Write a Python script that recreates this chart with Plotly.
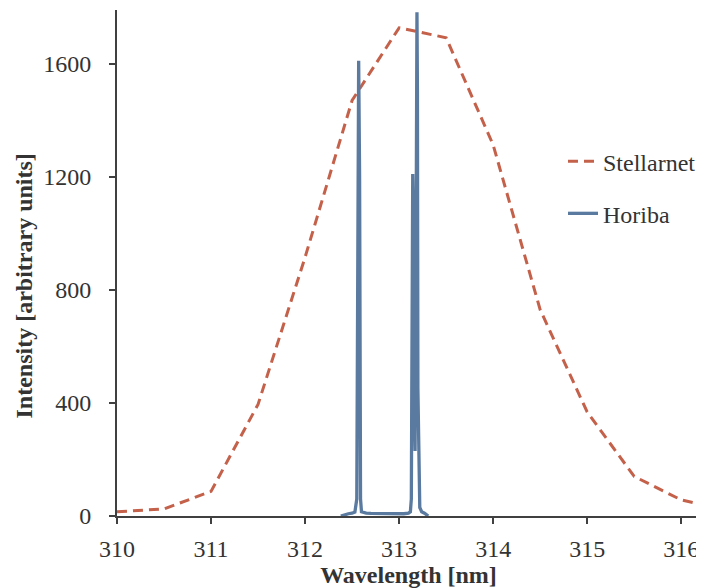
import plotly.graph_objects as go

# Stellarnet spectrum (coarse)
stellar_wl = [310.0, 310.5, 311.0, 311.5, 312.0, 312.5, 313.0, 313.5, 314.0, 314.5, 315.0, 315.5, 316.0, 316.2]
stellar_int = [15, 25, 87, 395, 915, 1470, 1727, 1692, 1313, 730, 368, 140, 57, 42]

# Horiba spectrum (high resolution)
horiba_wl = [312.38, 312.42, 312.46, 312.50, 312.53, 312.55, 312.56, 312.57, 312.58, 312.585,
             312.59, 312.60, 312.62, 312.65, 312.70, 312.80, 312.90, 313.00, 313.05, 313.10,
             313.12, 313.13, 313.14, 313.145, 313.15, 313.16, 313.17, 313.18, 313.19, 313.195,
             313.20, 313.21, 313.22, 313.24, 313.27, 313.31]
horiba_int = [0, 5, 8, 10, 14, 60, 900, 1610, 1200, 380,
              60, 15, 12, 10, 9, 8, 7, 6, 8, 10,
              15, 60, 700, 1210, 1100, 400, 230, 900, 1782, 1500,
              450, 150, 30, 15, 10, 0]

x_ticks = [310, 311, 312, 313, 314, 315, 316]
y_ticks = [0, 400, 800, 1200, 1600]

font_family = "Liberation Serif, Times New Roman, serif"
text_color = "#333333"

fig = go.Figure()
fig.add_trace(go.Scatter(
    x=stellar_wl, y=stellar_int, mode="lines", name="Stellarnet",
    legendgroup="a",
    line=dict(color="#C4614A", width=3, dash="10px,6px"),
))
fig.add_trace(go.Scatter(
    x=horiba_wl, y=horiba_int, mode="lines", name="Horiba",
    legendgroup="b",
    line=dict(color="#5A7AA0", width=3.3),
))

# The page body has an 8px default margin, so the figure is sized to compensate.
fig.update_layout(
    width=696, height=580,
    margin=dict(l=109, r=4, t=2, b=72),
    paper_bgcolor="white", plot_bgcolor="white",
    font=dict(family=font_family, size=24, color=text_color),
    showlegend=True,
    legend=dict(x=0.765, y=0.745, xanchor="left", yanchor="top",
                bgcolor="rgba(0,0,0,0)", font=dict(size=24, color=text_color),
                traceorder="grouped", tracegroupgap=18),
    xaxis=dict(
        range=[310, 316.2], tickmode="array", tickvals=x_ticks,
        ticktext=[str(v) for v in x_ticks], automargin=False,
        showline=True, linecolor="#404040", linewidth=2,
        ticks="outside", ticklen=6, tickwidth=2, tickcolor="#404040",
        ticklabelstandoff=4,
        showgrid=False, zeroline=False,
        title=dict(text="<b>Wavelength [nm]</b>", standoff=2, font=dict(size=24)),
    ),
    yaxis=dict(
        range=[0, 1790], tickmode="array", tickvals=y_ticks,
        ticktext=[str(v) for v in y_ticks], automargin=False,
        showline=True, linecolor="#404040", linewidth=2,
        ticks="outside", ticklen=6, tickwidth=2, tickcolor="#404040",
        ticklabelstandoff=13,
        showgrid=False, zeroline=False,
    ),
    annotations=[dict(
        text="<b>Intensity [arbitrary units]</b>", textangle=-90,
        xref="paper", yref="paper", x=-0.16, y=0.455,
        xanchor="center", yanchor="middle", showarrow=False,
        font=dict(size=24, color=text_color),
    )],
)

fig.write_html("out.html")
